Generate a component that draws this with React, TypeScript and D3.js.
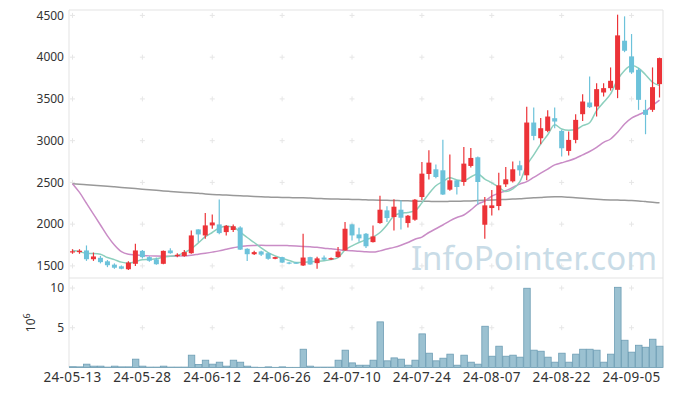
import * as d3 from 'd3';

const dates = [
  '24-05-13', '24-05-14', '24-05-16', '24-05-17', '24-05-20', '24-05-21', '24-05-22', '24-05-23', '24-05-24', '24-05-27',
  '24-05-28', '24-05-29', '24-05-30', '24-05-31', '24-06-03', '24-06-04', '24-06-05', '24-06-07', '24-06-10', '24-06-11',
  '24-06-12', '24-06-13', '24-06-14', '24-06-17', '24-06-18', '24-06-19', '24-06-20', '24-06-21', '24-06-24', '24-06-25',
  '24-06-26', '24-06-27', '24-06-28', '24-07-01', '24-07-02', '24-07-03', '24-07-04', '24-07-05', '24-07-08', '24-07-09',
  '24-07-10', '24-07-11', '24-07-12', '24-07-15', '24-07-16', '24-07-17', '24-07-18', '24-07-19', '24-07-22', '24-07-23',
  '24-07-24', '24-07-25', '24-07-26', '24-07-29', '24-07-30', '24-07-31', '24-08-01', '24-08-02', '24-08-05', '24-08-06',
  '24-08-07', '24-08-08', '24-08-09', '24-08-12', '24-08-13', '24-08-14', '24-08-16', '24-08-19', '24-08-20', '24-08-21',
  '24-08-22', '24-08-23', '24-08-26', '24-08-27', '24-08-28', '24-08-29', '24-08-30', '24-09-02', '24-09-03', '24-09-04',
  '24-09-05', '24-09-06', '24-09-09', '24-09-10', '24-09-11',
];

const opens = [
  1670, 1665, 1685, 1580, 1597, 1555, 1515, 1495, 1460, 1525,
  1680, 1605, 1578, 1525, 1685, 1617, 1617, 1652, 1937, 1865,
  1985, 1997, 1905, 1930, 1960, 1705, 1640, 1673, 1652, 1585,
  1605, 1541, 1540, 1505, 1605, 1533, 1600, 1577, 1605, 1685,
  1997, 1877, 1885, 1785, 2013, 2165, 2085, 2173, 2013, 2053,
  2325, 2601, 2657, 2645, 2413, 2525, 2505, 2697, 2801, 1993,
  2193, 2217, 2477, 2513, 2705, 2585, 3217, 3029, 3117, 3269,
  3117, 2877, 3009, 3317, 3457, 3409, 3577, 3629, 3609, 4197,
  4009, 3849, 3369, 3369, 3677,
];
const highs = [
  1700, 1700, 1745, 1660, 1620, 1570, 1530, 1505, 1555, 1765,
  1690, 1615, 1600, 1685, 1710, 1650, 1690, 1925, 1940, 2135,
  2115, 2295, 1990, 1995, 1975, 1710, 1680, 1680, 1660, 1610,
  1610, 1548, 1548, 1885, 1610, 1610, 1625, 1600, 1725, 2025,
  2005, 1957, 1895, 1985, 2340, 2213, 2297, 2285, 2110, 2300,
  2745, 2885, 2715, 3010, 2833, 2530, 2925, 2913, 2810, 2325,
  2410, 2617, 2685, 2750, 2760, 3405, 3397, 3270, 3365, 3397,
  3130, 3109, 3317, 3557, 3769, 3689, 3689, 3877, 4509, 4489,
  4277, 3870, 3489, 3877, 3995,
];
const lows = [
  1645, 1645, 1560, 1560, 1530, 1485, 1465, 1460, 1450, 1500,
  1590, 1550, 1515, 1520, 1645, 1605, 1610, 1645, 1785, 1825,
  1945, 1880, 1865, 1905, 1690, 1560, 1630, 1620, 1575, 1580,
  1535, 1520, 1525, 1500, 1515, 1465, 1565, 1570, 1600, 1680,
  1805, 1790, 1715, 1780, 2005, 2025, 1925, 1937, 1960, 2040,
  2290, 2535, 2550, 2350, 2400, 2355, 2460, 2680, 2235, 1825,
  2105, 2165, 2445, 2500, 2580, 2525, 3005, 2957, 3100, 3149,
  2810, 2821, 2969, 3235, 3390, 3289, 3529, 3600, 3509, 4060,
  3800, 3369, 3077, 3345, 3517,
];
const closes = [
  1675, 1682, 1580, 1613, 1545, 1508, 1478, 1466, 1540, 1685,
  1605, 1562, 1520, 1680, 1652, 1633, 1665, 1865, 1877, 1985,
  2020, 1893, 1980, 1975, 1695, 1640, 1665, 1635, 1585, 1605,
  1540, 1530, 1532, 1600, 1517, 1590, 1575, 1593, 1673, 1945,
  1865, 1830, 1735, 1853, 2173, 2073, 2209, 2077, 2101, 2293,
  2605, 2737, 2565, 2355, 2525, 2445, 2725, 2793, 2505, 2225,
  2225, 2465, 2537, 2657, 2645, 3217, 3057, 3149, 3289, 3229,
  2909, 3009, 3249, 3469, 3401, 3617, 3629, 3717, 4261, 4077,
  3817, 3489, 3309, 3641, 3989,
];

// volume, millions of shares
const volumes = [
  0.1, 0.08, 0.42, 0.17, 0.17, 0.05, 0.17, 0.08, 0.08, 1.05,
  0.17, 0.05, 0.05, 0.17, 0.05, 0.05, 0.05, 1.55, 0.38, 0.92,
  0.42, 0.67, 0.17, 0.92, 0.67, 0.17, 0.04, 0.02, 0.08, 0.02,
  0.08, 0.02, 0.02, 2.3, 0.17, 0.05, 0.05, 0.05, 0.92, 2.18,
  0.58, 0.29, 0.29, 0.92, 5.74, 0.84, 1.21, 1.05, 0.29, 0.92,
  4.23, 1.8, 0.84, 1.17, 1.68, 0.29, 1.55, 0.67, 0.42, 5.19,
  1.42, 2.68, 1.42, 1.55, 1.3, 9.97, 2.18, 2.05, 1.3, 0.67,
  1.8, 0.67, 1.68, 2.3, 2.3, 2.18, 0.67, 1.68, 10.09, 3.43,
  1.93, 2.8, 2.55, 3.56, 2.68,
];

const ma5 = [
  1685, 1672, 1650, 1648, 1640, 1600, 1575, 1545, 1532, 1550,
  1573, 1577, 1585, 1605, 1615, 1625, 1660, 1705, 1775, 1850,
  1900, 1955, 1975, 1965, 1905, 1840, 1780, 1715, 1660, 1620,
  1590, 1565, 1540, 1540, 1550, 1555, 1562, 1575, 1600, 1690,
  1740, 1780, 1815, 1845, 1900, 1990, 2100, 2130, 2140, 2160,
  2255, 2365, 2460, 2510, 2555, 2530, 2520, 2565, 2600, 2540,
  2495, 2443, 2390, 2422, 2506, 2704, 2830, 2960, 3070, 3190,
  3140, 3125, 3130, 3180, 3215, 3360, 3460, 3560, 3730, 3840,
  3900, 3870, 3790, 3700, 3660,
];
const ma20 = [
  2485, 2380, 2250, 2120, 1990, 1860, 1750, 1670, 1640, 1632,
  1625, 1620, 1618, 1617, 1617, 1618, 1620, 1628, 1640, 1652,
  1665, 1680, 1700, 1718, 1730, 1742, 1745, 1746, 1745, 1744,
  1745, 1742, 1738, 1733, 1728, 1722, 1712, 1705, 1695, 1686,
  1680, 1675, 1668, 1665, 1680, 1702, 1722, 1748, 1780, 1820,
  1845, 1900, 1945, 1990, 2040, 2080, 2110, 2170, 2240, 2275,
  2335, 2370, 2400, 2440, 2480, 2510, 2560, 2610, 2660, 2710,
  2735, 2760, 2790, 2830, 2870, 2920, 2980, 3020, 3100, 3200,
  3270, 3310, 3350, 3420, 3485,
];
const ma120 = [
  2485, 2478, 2472, 2466, 2460, 2454, 2447, 2440, 2433, 2426,
  2419, 2412, 2405, 2398, 2392, 2386, 2380, 2375, 2370, 2362,
  2356, 2352, 2348, 2344, 2340, 2336, 2332, 2328, 2325, 2322,
  2320, 2318, 2317, 2315, 2312, 2308, 2305, 2302, 2300, 2298,
  2296, 2294, 2291, 2289, 2287, 2285, 2283, 2281, 2279, 2276,
  2274, 2273, 2272, 2272, 2273, 2274, 2276, 2278, 2282, 2285,
  2288, 2292, 2296, 2300, 2304, 2310, 2315, 2320, 2326, 2329,
  2327, 2322, 2316, 2310, 2304, 2298, 2293, 2290, 2288, 2286,
  2283, 2278, 2270, 2262, 2255,
];

const priceTicks = [1500, 2000, 2500, 3000, 3500, 4000, 4500];
const volumeTicks = [5, 10];
const dateTicks = dates.filter((_, i) => i % 10 === 0);

const W = 673;
const H = 396;
const left = 69;
const right = 663;
const top = 10;
const split = 278;
const bottom = 367.5;

const UP = '#ec3338';
const DOWN = '#6cc2da';
const FONT = '"Noto Sans", sans-serif';

export default function App() {
  const x = d3.scaleBand<string>().domain(dates).range([left, right]).padding(0);
  const bw = x.bandwidth();
  const cx = (i: number) => (x(dates[i]) as number) + bw / 2;

  const y = d3.scaleLinear().domain([1355, 4565]).range([split, top]);
  const yv = d3.scaleLinear().domain([0, 11.26]).range([bottom, split]);

  const line = (vals: number[]) =>
    d3.line<number>()
      .x((_, i) => cx(i))
      .y(d => y(d))
      .curve(d3.curveMonotoneX)(vals) || '';

  const crossXs = dateTicks.map(d => (x(d) as number) + bw / 2);
  const crossYs = [...priceTicks.map(v => y(v)), ...volumeTicks.map(v => yv(v))];

  return (
    <svg width={W} height={H} style={{ position: 'absolute', left: 0, top: 0, background: '#fff' }}>
      {/* frame */}
      <g stroke="#e3e3e3" strokeWidth={1} fill="none">
        <line x1={left} x2={right} y1={top} y2={top} />
        <line x1={right} x2={right} y1={top} y2={bottom} />
        <line x1={left} x2={left} y1={top} y2={bottom} />
        <line x1={left} x2={right} y1={split} y2={split} />
        <line x1={left} x2={right} y1={bottom} y2={bottom} />
      </g>

      {/* grid crosses */}
      <g stroke="#e6e6e6" strokeWidth={1}>
        {crossXs.map(cxv =>
          crossYs.map(cyv => (
            <g key={`${cxv}-${cyv}`}>
              <line x1={cxv - 2.5} x2={cxv + 2.5} y1={cyv} y2={cyv} />
              <line x1={cxv} x2={cxv} y1={cyv - 2.5} y2={cyv + 2.5} />
            </g>
          ))
        )}
      </g>

      {/* watermark */}
      <text x={657} y={270} textAnchor="end" fontFamily={FONT} fontSize={33}
        fill="#c9dce7">InfoPointer.com</text>

      {/* moving averages */}
      <path d={line(ma120)} fill="none" stroke="#999999" strokeWidth={1.5} />
      <path d={line(ma20)} fill="none" stroke="#c98cc6" strokeWidth={1.5} />
      <path d={line(ma5)} fill="none" stroke="#8ccfbd" strokeWidth={1.5} />

      {/* candles */}
      {dates.map((d, i) => {
        const o = opens[i];
        const c = closes[i];
        const col = c >= o ? UP : DOWN;
        const yTop = y(Math.max(o, c));
        const yBot = y(Math.min(o, c));
        const bodyW = 5;
        return (
          <g key={d}>
            <line x1={cx(i)} x2={cx(i)} y1={y(highs[i])} y2={y(lows[i])} stroke={col} strokeWidth={1.2} />
            <rect x={cx(i) - bodyW / 2} y={yTop} width={bodyW} height={Math.max(1.2, yBot - yTop)} fill={col} />
          </g>
        );
      })}

      {/* volume */}
      {dates.map((d, i) => (
        <rect key={d} x={(x(d) as number) + 0.5} y={yv(volumes[i])} width={bw - 0.5}
          height={bottom - yv(volumes[i])} fill="#9bc1d1" stroke="#6d9db4" strokeWidth={0.8} />
      ))}

      {/* price axis labels */}
      {priceTicks.map(t => (
        <text key={t} x={64} y={y(t)} dy="0.35em" textAnchor="end" fontFamily={FONT}
          fontSize={12} fill="#333">{t}</text>
      ))}
      {volumeTicks.map(t => (
        <text key={t} x={64} y={yv(t)} dy="0.35em" textAnchor="end" fontFamily={FONT}
          fontSize={12} fill="#333">{t}</text>
      ))}
      <text transform={`translate(35, ${(split + bottom) / 2}) rotate(-90)`} textAnchor="middle"
        fontFamily={FONT} fontSize={12} fill="#333">
        10<tspan dy={-5} fontSize={9}>6</tspan>
      </text>

      {/* date labels */}
      {dateTicks.map(d => (
        <text key={d} x={(x(d) as number) + bw / 2} y={382} textAnchor="middle" fontFamily={FONT}
          fontSize={13.5} letterSpacing={0.4} fill="#333">{d}</text>
      ))}
    </svg>
  );
}
